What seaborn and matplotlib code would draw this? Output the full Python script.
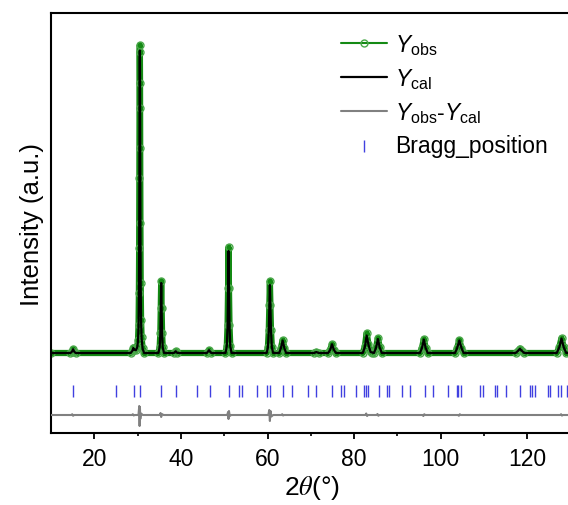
import numpy as np
import pandas as pd
import seaborn as sns
import matplotlib
matplotlib.use("Agg")
import matplotlib.pyplot as plt
from matplotlib.ticker import FixedLocator

# ---------------- data ----------------
two_theta = [10.0, 14.5, 14.85, 15.1, 15.35, 15.7,
             28.4, 28.8, 29.0, 29.25, 29.6, 29.9, 30.1, 30.22, 30.30, 30.36, 30.41,
             30.45, 30.48, 30.52, 30.56, 30.60, 30.65, 30.71, 30.8, 30.92, 31.15, 31.5,
             34.8, 35.1, 35.25, 35.35, 35.45, 35.55, 35.65, 35.8, 36.1,
             38.4, 38.8, 39.2,
             46.0, 46.5, 47.0,
             50.3, 50.6, 50.78, 50.9, 51.0, 51.1, 51.22, 51.4, 51.7,
             59.8, 60.1, 60.3, 60.43, 60.55, 60.67, 60.8, 61.0, 61.3,
             62.7, 63.1, 63.5, 63.9, 64.3,
             70.8, 71.3, 71.8,
             74.0, 74.5, 74.9, 75.3, 75.8,
             82.0, 82.5, 82.9, 83.3, 83.8, 84.2,
             84.6, 85.1, 85.5, 85.9, 86.4,
             95.2, 95.7, 96.1, 96.5, 97.0,
             103.3, 103.8, 104.3, 104.8, 105.3,
             117.3, 117.8, 118.3, 118.8, 119.3,
             126.8, 127.4, 127.9, 128.4, 129.0,
             132.0]
y_obs = [0, 0, 15, 40, 15, 0,
         0, 25, 55, 35, 30, 60, 130, 280, 600, 1050, 1750,
         2450, 3010, 3080, 2700, 2050, 1300, 700, 330, 160, 50, 0,
         0, 60, 200, 450, 720, 450, 200, 60, 0,
         0, 20, 0,
         0, 30, 0,
         0, 70, 280, 650, 1060, 650, 280, 70, 0,
         0, 60, 230, 480, 720, 480, 230, 60, 0,
         0, 50, 130, 50, 0,
         0, 12, 0,
         0, 35, 90, 35, 0,
         0, 70, 200, 90, 10, 5,
         0, 60, 150, 60, 0,
         0, 55, 140, 55, 0,
         0, 50, 130, 50, 0,
         0, 20, 45, 20, 0,
         0, 60, 150, 60, 0,
         0]
y_cal = [0, 0, 14, 38, 14, 0,
         0, 22, 50, 32, 28, 55, 120, 265, 580, 1020, 1700,
         2400, 2900, 3025, 2650, 2000, 1270, 690, 320, 150, 45, 0,
         0, 55, 190, 430, 700, 440, 195, 58, 0,
         0, 18, 0,
         0, 28, 0,
         0, 65, 270, 620, 1020, 630, 275, 68, 0,
         0, 55, 220, 460, 680, 465, 225, 58, 0,
         0, 48, 125, 48, 0,
         0, 10, 0,
         0, 33, 88, 34, 0,
         0, 62, 175, 85, 10, 5,
         0, 56, 140, 57, 0,
         0, 53, 135, 54, 0,
         0, 48, 125, 49, 0,
         0, 19, 42, 19, 0,
         0, 58, 145, 58, 0,
         0]

diff_theta = [10, 14.7, 14.9, 15.1, 15.3, 15.5,
              28.7, 28.9, 29.1, 29.3,
              30.2, 30.38, 30.46, 30.54, 30.62, 30.8, 31.2,
              35.1, 35.3, 35.45, 35.6, 36.0,
              50.5, 50.7, 50.9, 51.0, 51.1, 51.3, 51.6,
              60.0, 60.2, 60.4, 60.55, 60.7, 60.9, 61.3,
              63.2, 63.4, 63.6, 63.8,
              82.6, 82.8, 83.0, 83.2,
              85.2, 85.4, 85.6, 85.8,
              95.8, 96.0, 96.2, 96.4,
              104.0, 104.2, 104.4, 104.6,
              127.6, 127.8, 128.0, 128.2,
              132]
diff_val = [0, 0, 8, -8, 0, 0,
            0, 8, -5, 0,
            0, 90, -110, 80, -40, 15, 0,
            0, 20, -20, 10, 0,
            0, 0, 30, -40, 40, -10, 0,
            0, 0, 50, -60, 40, -15, 0,
            0, 8, -5, 0,
            0, 15, -10, 0,
            0, 10, -8, 0,
            0, -10, 8, 0,
            0, -8, 8, 0,
            0, 8, -6, 0,
            0]
diff_offset = -620

bragg_pos = [15.13, 24.9, 29.2, 30.5, 35.45, 38.8, 43.8, 46.7, 51.1, 53.4, 54.2, 57.5,
             59.8, 60.5, 63.6, 65.7, 69.4, 71.3, 74.9, 76.9, 77.6, 80.4, 82.3, 82.7,
             83.2, 85.7, 87.6, 88.1, 91.0, 92.9, 96.4, 98.3, 101.7, 103.7, 104.0, 104.6,
             109.1, 109.8, 112.5, 112.9, 115.1, 118.2, 120.7, 121.1, 121.7, 124.7, 125.2,
             127.1, 127.7, 129.1]
bragg_level = -380

x_ticks = [20, 40, 60, 80, 100, 120]
x_minor = [30, 50, 70, 90, 110, 130]

# ---------------- style ----------------
sns.set_theme(style="white")
plt.rcParams['font.family'] = ['Liberation Sans', 'DejaVu Sans']
plt.rcParams['mathtext.fontset'] = 'custom'
plt.rcParams['mathtext.rm'] = 'Liberation Sans'
plt.rcParams['mathtext.it'] = 'Liberation Sans:italic'
plt.rcParams['mathtext.bf'] = 'Liberation Sans:bold'
plt.rcParams['text.color'] = 'black'
plt.rcParams['axes.labelcolor'] = 'black'
plt.rcParams['xtick.color'] = 'black'
plt.rcParams['xtick.labelcolor'] = 'black'

GREEN = '#148a14'
GREEN_M = '#4aa84a'
BLUE = '#4040e0'
GREY = '#808080'

df = pd.DataFrame({'tt': two_theta, 'obs': y_obs, 'cal': y_cal})
dfd = pd.DataFrame({'tt': diff_theta, 'd': np.array(diff_val) + diff_offset})
dfb = pd.DataFrame({'tt': bragg_pos, 'y': [bragg_level] * len(bragg_pos)})

fig = plt.figure(figsize=(5.68, 5.06), dpi=100)
ax = fig.add_axes([51 / 568, 72 / 506, 120.5 * 4.33 / 568, 420 / 506])

# dense observed-point band
sns.lineplot(data=df, x='tt', y='obs', ax=ax, color=GREEN, linewidth=4.5,
             estimator=None, sort=False, zorder=1, legend=False)
# observed points
sns.lineplot(data=df, x='tt', y='obs', ax=ax, color=GREEN, linewidth=1.5,
             marker='o', markersize=5, markerfacecolor='none',
             markeredgecolor=GREEN_M, markeredgewidth=1.0,
             estimator=None, sort=False, zorder=2, label=r'$Y_{\mathrm{obs}}$')
sns.lineplot(data=df, x='tt', y='cal', ax=ax, color='black', linewidth=1.6,
             estimator=None, sort=False, zorder=3, label=r'$Y_{\mathrm{cal}}$')
sns.lineplot(data=dfd, x='tt', y='d', ax=ax, color=GREY, linewidth=1.5,
             estimator=None, sort=False, zorder=3,
             label=r'$Y_{\mathrm{obs}}$-$Y_{\mathrm{cal}}$')
sns.scatterplot(data=dfb, x='tt', y='y', ax=ax, marker='|', s=80, color=BLUE,
                linewidth=1.0, zorder=3, label='Bragg_position')

ax.set_xlim(10, 130.5)
ax.set_ylim(-800, 3400)

for sp in ax.spines.values():
    sp.set_color('black')
    sp.set_linewidth(1.5)

ax.xaxis.set_major_locator(FixedLocator(x_ticks))
ax.xaxis.set_minor_locator(FixedLocator(x_minor))
ax.tick_params(axis='x', which='major', bottom=True, top=False, direction='out',
               length=4, width=1.3, color='black', labelcolor='black',
               labelsize=16.5, pad=6)
ax.tick_params(axis='x', which='minor', bottom=True, top=False, direction='out',
               length=2.5, width=1.2, color='black')
ax.tick_params(axis='y', left=False, labelleft=False)

ax.set_xlabel(r'2$\theta$(°)', fontsize=19, math_fontfamily='stix', labelpad=2,
              color='black')
ax.set_ylabel('Intensity (a.u.)', fontsize=18.5, labelpad=5, color='black')

leg = ax.legend(loc='upper left', bbox_to_anchor=(332 / 568, 1 - 24 / 506),
                bbox_transform=fig.transFigure, frameon=False, fontsize=16.5,
                handlelength=2.0, handletextpad=0.35, labelspacing=0.4,
                borderaxespad=0, markerscale=1.0)
for t in leg.get_texts():
    t.set_color('black')

fig.savefig('out.png', dpi=100)
